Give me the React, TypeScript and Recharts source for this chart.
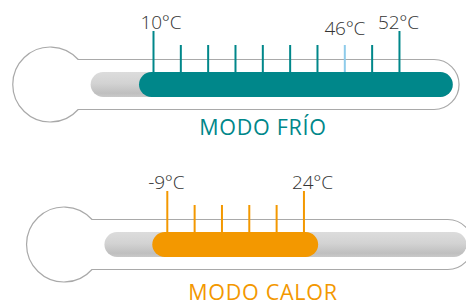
import React from 'react';
import { ComposedChart, XAxis, YAxis, Line, ReferenceLine, ReferenceArea } from 'recharts';

// positions are in "scale marks" (0 = first mark of each thermometer)
const frioLabels = ['10°C', '', '', '', '', '', '', '46°C', '', '52°C'];
const frioMajor = [true, false, false, false, false, false, false, false, false, true];
const frioSetpoint = 7;
const frioRange = [-0.53, 10.95];

const calorLabels = ['-9°C', '', '', '', '', '24°C'];
const calorMajor = [true, false, false, false, false, true];
const calorRange = [-0.55, 5.52];

const trackRange = [-2.3, 10.95];
const tubeRange = [-5.15, 11.18];

const W = 466;
const STEP = 27.33;
const BAR = 25;
const TALL = 41;
const SHORT = 27;
const FONT = '"Open Sans", "DejaVu Sans", sans-serif';

// little horizontal nudges of the labels, as in the original artwork
const labelShift: Record<string, number> = { '10°C': 7.5, '24°C': 8.5, '-9°C': -1, '52°C': -1 };

function TubeOutline(props: any) {
    const { x, y, width, height } = props;
    const r = height / 2;
    const R = r * 1.5;
    const cx = x + R;
    const cy = y + r;
    const jx = cx + Math.sqrt(R * R - r * r);
    const ex = x + width - r;
    const d = `M ${jx} ${cy - r} L ${ex} ${cy - r} A ${r} ${r} 0 0 1 ${ex} ${cy + r} L ${jx} ${cy + r} A ${R} ${R} 0 1 1 ${jx} ${cy - r} Z`;
    return <path d={d} fill="#fff" stroke="#a9a9a9" strokeWidth={1.2} />;
}

interface ThermoProps {
    id: string;
    labels: string[];
    major: boolean[];
    setpoint?: number;
    range: number[];
    color: string;
    origin: number;
    height: number;
    center: number;
    top: number;
    caption: string;
    captionTop: number;
}

function Thermometer({ id, labels, major, setpoint, range, color, origin, height, center, top, caption, captionTop }: ThermoProps) {
    const cap = BAR / 2 / STEP;
    const trackData = [{ pos: trackRange[0] + cap, y: 0 }, { pos: trackRange[1] - cap, y: 0 }];
    const fillData = [{ pos: range[0] + cap, y: 0 }, { pos: range[1] - cap, y: 0 }];

    return (
        <div style={{ position: 'absolute', left: 0, top, width: W, height }}>
            <ComposedChart width={W} height={height} margin={{ top: 0, right: 0, bottom: 0, left: 0 }}>
                <defs>
                    <linearGradient id={`track-${id}`} gradientUnits="userSpaceOnUse" x1={0} x2={0} y1={center - BAR / 2} y2={center + BAR / 2}>
                        <stop offset="0%" stopColor="#dcdcdc" />
                        <stop offset="45%" stopColor="#d3d3d3" />
                        <stop offset="85%" stopColor="#bfbfbf" />
                        <stop offset="100%" stopColor="#c9c9c9" />
                    </linearGradient>
                </defs>
                <XAxis type="number" dataKey="pos" domain={[-origin / STEP, (W - origin) / STEP]} allowDataOverflow hide />
                <YAxis type="number" domain={[-(height - center), center]} allowDataOverflow hide />
                <ReferenceArea
                    x1={tubeRange[0]}
                    x2={tubeRange[1]}
                    y1={-25}
                    y2={25}
                    ifOverflow="visible"
                    shape={(p: any) => <TubeOutline {...p} />}
                />
                <Line
                    data={trackData}
                    dataKey="y"
                    stroke={`url(#track-${id})`}
                    strokeWidth={BAR}
                    strokeLinecap="round"
                    dot={false}
                    activeDot={false}
                    isAnimationActive={false}
                />
                <Line
                    data={fillData}
                    dataKey="y"
                    stroke={color}
                    strokeWidth={BAR}
                    strokeLinecap="round"
                    dot={false}
                    activeDot={false}
                    isAnimationActive={false}
                />
                {labels.map((lab, i) => (
                    <ReferenceLine
                        key={i}
                        segment={[{ x: i, y: BAR / 2 }, { x: i, y: BAR / 2 + (major[i] ? TALL : SHORT) }]}
                        stroke={i === setpoint ? '#8ecbea' : color}
                        strokeWidth={2}
                        label={
                            lab
                                ? (p: any) => (
                                      <text
                                          x={p.viewBox.x + (labelShift[lab] || 0)}
                                          y={p.viewBox.y - (major[i] ? 2.5 : 10)}
                                          textAnchor="middle"
                                          fontFamily={FONT}
                                          fontWeight={300}
                                          fontSize={19}
                                          letterSpacing={-0.2}
                                          fill="#333"
                                      >
                                          {lab}
                                      </text>
                                  )
                                : undefined
                        }
                    />
                ))}
            </ComposedChart>
            <div
                style={{
                    position: 'absolute',
                    left: 0,
                    width: W,
                    top: captionTop - top,
                    textAlign: 'center',
                    paddingLeft: 60,
                    boxSizing: 'border-box',
                    fontFamily: FONT,
                    fontSize: 21.5,
                    lineHeight: '21.5px',
                    letterSpacing: 0.7,
                    color,
                    whiteSpace: 'nowrap',
                }}
            >
                {caption}
            </div>
        </div>
    );
}

export default function App() {
    return (
        <div style={{ position: 'fixed', left: 0, top: 0, width: W, height: 304, overflow: 'hidden', background: '#fff' }}>
            <Thermometer
                id="frio"
                labels={frioLabels}
                major={frioMajor}
                setpoint={frioSetpoint}
                range={frioRange}
                color="#00878a"
                origin={153.5}
                height={150}
                center={84.5}
                top={0}
                caption="MODO FRÍO"
                captionTop={115.6}
            />
            <Thermometer
                id="calor"
                labels={calorLabels}
                major={calorMajor}
                range={calorRange}
                color="#f39800"
                origin={167.3}
                height={154}
                center={94.5}
                top={150}
                caption="MODO CALOR"
                captionTop={281.2}
            />
        </div>
    );
}
